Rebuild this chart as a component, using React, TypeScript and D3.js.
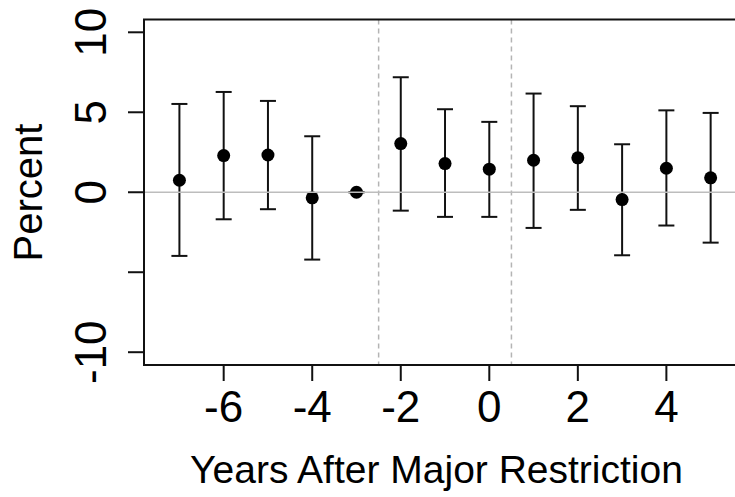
import React from "react";
import * as d3 from "d3";

const years = [-7, -6, -5, -4, -3, -2, -1, 0, 1, 2, 3, 4, 5];
const estimates = [0.75, 2.29, 2.33, -0.35, 0, 3.04, 1.79, 1.44, 2.0, 2.15, -0.46, 1.5, 0.9];
const upper = [5.52, 6.27, 5.71, 3.5, 0, 7.19, 5.19, 4.4, 6.17, 5.38, 3.0, 5.12, 4.96];
const lower = [-3.98, -1.69, -1.06, -4.21, 0, -1.15, -1.54, -1.54, -2.23, -1.1, -3.94, -2.08, -3.15];
const xTicks = [-6, -4, -2, 0, 2, 4];
const yTicks = [-10, -5, 0, 5, 10];
const yTickLabels = ["-10", "", "0", "5", "10"];
const dividers = [-2.5, 0.5];
const xTitle = "Years After Major Restriction";
const yTitle = "Percent";

export default function App() {
  const W = 735;
  const H = 497;
  const left = 144;
  const right = 745;
  const top = 19.5;
  const bottom = 365;
  const x = d3.scaleLinear().domain([-7.8, 5.776]).range([left, right]);
  const y = d3.scaleLinear().domain([-10.8, 10.8]).range([bottom, top]);
  const font = "'Liberation Sans', Arial, sans-serif";
  const cap = 8;
  const tickLen = 16;

  return (
    <svg
      width={W}
      height={H}
      style={{ position: "absolute", left: 0, top: 0, background: "#fff" }}
      fontFamily={font}
    >
      <rect x={0} y={0} width={W} height={H} fill="#fff" />
      {dividers.map((d, i) => (
        <line
          key={"d" + i}
          x1={x(d)}
          x2={x(d)}
          y1={top}
          y2={bottom}
          stroke="#b4b4b4"
          strokeWidth={1.5}
          strokeDasharray="5,4"
        />
      ))}
      {years.map((yr, i) => (
        <g key={"e" + i} stroke="#111" strokeWidth={2}>
          <line x1={x(yr)} x2={x(yr)} y1={y(lower[i])} y2={y(upper[i])} />
          <line x1={x(yr) - cap} x2={x(yr) + cap} y1={y(upper[i])} y2={y(upper[i])} />
          <line x1={x(yr) - cap} x2={x(yr) + cap} y1={y(lower[i])} y2={y(lower[i])} />
        </g>
      ))}
      {years.map((yr, i) => (
        <circle key={"p" + i} cx={x(yr)} cy={y(estimates[i])} r={6.5} fill="#000" />
      ))}
      <line x1={left} x2={right} y1={y(0)} y2={y(0)} stroke="#bdbdbd" strokeWidth={1.5} />
      <rect
        x={left}
        y={top}
        width={right - left}
        height={bottom - top}
        fill="none"
        stroke="#111"
        strokeWidth={2}
      />
      {yTicks.map((t, i) => (
        <g key={"yt" + i}>
          <line x1={left - tickLen} x2={left} y1={y(t)} y2={y(t)} stroke="#111" strokeWidth={2} />
          <text
            transform={`translate(106,${y(t)}) rotate(-90)`}
            textAnchor="middle"
            fontSize={44}
            fill="#000"
          >
            {yTickLabels[i]}
          </text>
        </g>
      ))}
      {xTicks.map((t, i) => (
        <g key={"xt" + i}>
          <line x1={x(t)} x2={x(t)} y1={bottom} y2={bottom + tickLen} stroke="#111" strokeWidth={2} />
          <text x={x(t)} y={422} textAnchor="middle" fontSize={44} fill="#000">
            {t}
          </text>
        </g>
      ))}
      <text x={(190 + 683) / 2} y={483} textAnchor="middle" fontSize={39} fill="#000">
        {xTitle}
      </text>
      <text
        transform={`translate(42,${192.5}) rotate(-90)`}
        textAnchor="middle"
        fontSize={40}
        fill="#000"
      >
        {yTitle}
      </text>
    </svg>
  );
}
